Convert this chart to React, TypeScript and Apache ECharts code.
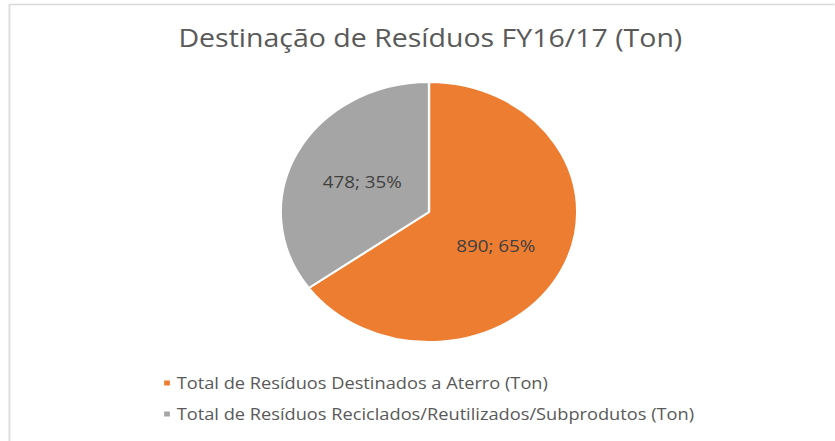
import React, { useEffect, useRef } from "react";
import * as echarts from "echarts";

const title = "Destinação de Resíduos FY16/17 (Ton)";
const categories = [
  "Total de Resíduos Destinados a Aterro (Ton)",
  "Total de Resíduos Reciclados/Reutilizados/Subprodutos (Ton)",
];
const values = [890, 478];
const colors = ["#ED7D31", "#A5A5A5"];
const labelOffsets = [[-2, 2], [2, 0]];

const SX = 1.14;
const W = 835 / SX;
const H = 441;

export default function App() {
  const ref = useRef<HTMLDivElement>(null);
  useEffect(() => {
    if (!ref.current) return;
    const chart = echarts.init(ref.current, null, { renderer: "svg", width: W, height: H });
    const font = "'Open Sans', sans-serif";
    chart.setOption({
      animation: false,
      backgroundColor: "#ffffff",
      title: {
        text: title,
        left: 151.5,
        top: 20,
        textStyle: { fontFamily: font, fontSize: 25, fontWeight: "normal", color: "#595959" },
      },
      graphic: [
        {
          type: "line",
          shape: { x1: 8.3, y1: 4.5, x2: W, y2: 4.5 },
          style: { stroke: "#d9d9d9", lineWidth: 1.5 },
        },
        {
          type: "line",
          shape: { x1: 8.3, y1: 4.5, x2: 8.3, y2: H },
          style: { stroke: "#d9d9d9", lineWidth: 1.5 },
        },
      ],
      legend: {
        orient: "vertical",
        left: 137,
        top: 369,
        icon: "rect",
        itemWidth: 7,
        itemHeight: 7,
        itemGap: 13,
        data: categories,
        textStyle: { fontFamily: font, fontSize: 16, color: "#595959", lineHeight: 18 },
      },
      series: [
        {
          type: "pie",
          center: [429 / SX, 212],
          radius: 130,
          startAngle: 90,
          clockwise: true,
          color: colors,
          data: categories.map((c, i) => ({
            name: c,
            value: values[i],
            label: { offset: labelOffsets[i] },
          })),
          itemStyle: { borderColor: "#ffffff", borderWidth: 2 },
          label: {
            position: "inside",
            formatter: (p: any) => `${p.value}; ${Math.round(p.percent)}%`,
            fontFamily: font,
            fontSize: 16.5,
            color: "#404040",
          },
          labelLine: { show: false },
          emphasis: { disabled: true },
        },
      ],
    });
    return () => chart.dispose();
  }, []);
  return (
    <div
      style={{
        position: "fixed",
        left: 0,
        top: 0,
        width: 835,
        height: 441,
        overflow: "hidden",
        background: "#fff",
      }}
    >
      <div
        ref={ref}
        style={{
          width: W,
          height: H,
          transform: `scaleX(${SX})`,
          transformOrigin: "0 0",
        }}
      />
    </div>
  );
}
